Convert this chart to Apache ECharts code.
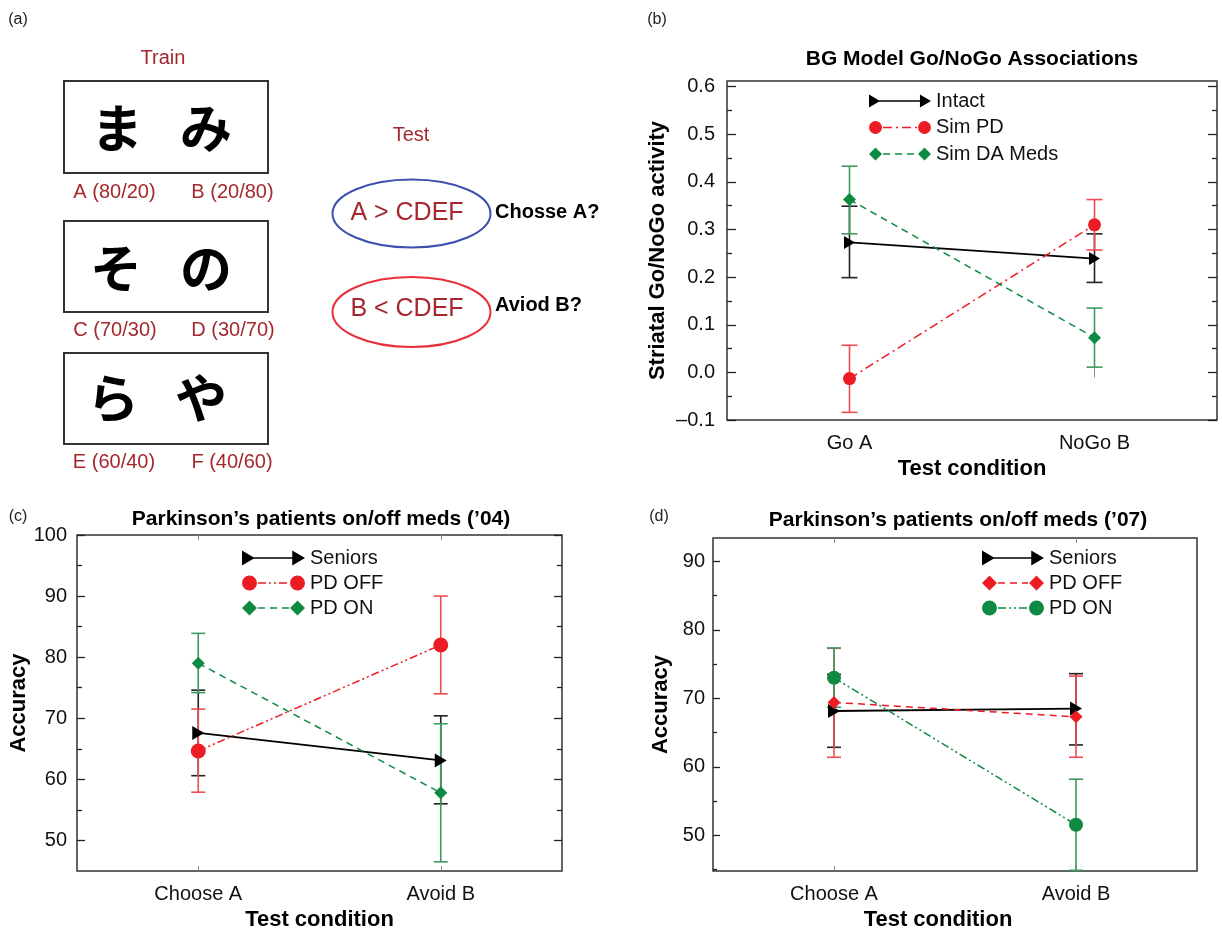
<!DOCTYPE html>
<html><head><meta charset="utf-8">
<script src="https://cdn.jsdelivr.net/npm/echarts@6/dist/echarts.min.js"></script>
<style>html,body{margin:0;padding:0;background:#fff}#main{width:1222px;height:931px}</style>
</head><body><div id="main"></div>
<script>
// ---------- Panel (b) data ----------
const catsB = ['Go A', 'NoGo B'];
const intactMean = [0.273, 0.239];
const intactLo = [0.199, 0.189];
const intactHi = [0.349, 0.291];
const simPDMean = [-0.013, 0.310];
const simPDLo = [-0.084, 0.257];
const simPDHi = [0.057, 0.363];
const simDAMean = [0.363, 0.073];
const simDALo = [0.291, 0.011];
const simDAHi = [0.433, 0.135];
const yTicksB = [-0.1, 0, 0.1, 0.2, 0.3, 0.4, 0.5, 0.6];
const yMinorB = [-0.05, 0.05, 0.15, 0.25, 0.35, 0.45, 0.55];

// ---------- Panel (c) data ----------
const catsC = ['Choose A', 'Avoid B'];
const seniorsMeanC = [67.6, 63.1];
const seniorsLoC = [60.6, 56.0];
const seniorsHiC = [74.6, 70.4];
const pdOffMeanC = [64.65, 82.0];
const pdOffLoC = [57.9, 74.0];
const pdOffHiC = [71.5, 90.0];
const pdOnMeanC = [79.0, 57.8];
const pdOnLoC = [74.2, 46.5];
const pdOnHiC = [83.9, 69.1];
const yTicksC = [50, 60, 70, 80, 90, 100];
const yMinorC = [55, 65, 75, 85, 95];

// ---------- Panel (d) data ----------
const catsD = ['Choose A', 'Avoid B'];
const seniorsMeanD = [68.15, 68.5];
const seniorsLoD = [62.85, 63.2];
const seniorsHiD = [73.5, 73.6];
const pdOffMeanD = [69.4, 67.3];
const pdOffLoD = [61.4, 61.4];
const pdOffHiD = [77.3, 73.25];
const pdOnMeanD = [73.0, 51.55];
const pdOnLoD = [68.7, 44.9];
const pdOnHiD = [77.35, 58.2];
const yTicksD = [50, 60, 70, 80, 90];
const yMinorD = [45, 55, 65, 75, 85];

// ---------- styling ----------
const FONT = 'Liberation Sans, Arial, Helvetica, sans-serif';
const BLACK = '#000000', RED = '#ec1c24', GREEN = '#0e8a43';
const RED_ERR = '#ee4d52', GREEN_ERR = '#3d9a5e', BLACK_ERR = '#222222';
const DASH_DOT = [9, 4, 2, 4];
const DASH_DOT_DOT = [8, 3, 2, 3, 2, 3];
const DASHED = [7, 5];

function dashSegs(x0, x1, pattern) {
  const segs = []; let x = x0, i = 0;
  if (!pattern) return [[x0, x1]];
  while (x < x1) {
    const len = pattern[i % pattern.length];
    if (i % 2 === 0) segs.push([x, Math.min(x + len, x1)]);
    x += len; i++;
  }
  return segs;
}
function legendIcon(shape, pattern, W, H) {
  const m = H / 2, t = 0.8;
  let p = '';
  let rx0, w;
  if (shape === 'tri') {
    w = H * 0.85; rx0 = W - w;
    p += `M0 0L${w} ${m}L0 ${H}Z`;
    p += `M${rx0} 0L${W} ${m}L${rx0} ${H}Z`;
  } else if (shape === 'circle') {
    const r = H / 2; w = H; rx0 = W - H;
    p += `M0 ${m}A${r} ${r} 0 1 0 ${H} ${m}A${r} ${r} 0 1 0 0 ${m}Z`;
    p += `M${rx0} ${m}A${r} ${r} 0 1 0 ${W} ${m}A${r} ${r} 0 1 0 ${rx0} ${m}Z`;
  } else {
    w = H; rx0 = W - H;
    p += `M0 ${m}L${H / 2} 0L${H} ${m}L${H / 2} ${H}Z`;
    p += `M${rx0} ${m}L${rx0 + H / 2} 0L${W} ${m}L${rx0 + H / 2} ${H}Z`;
  }
  const a = shape === 'tri' ? w * 0.5 : w, b = shape === 'tri' ? rx0 + 1 : rx0;
  dashSegs(a + (pattern ? 1 : 0), b - (pattern ? 1 : 0), pattern).forEach(s => {
    p += `M${s[0]} ${m - t}L${s[1]} ${m - t}L${s[1]} ${m + t}L${s[0]} ${m + t}Z`;
  });
  return 'path://' + p;
}

function lineSeries(name, gi, data, color, symbol, size, dash, width) {
  return {
    type: 'line', name, xAxisIndex: gi * 2, yAxisIndex: gi * 4, data,
    symbol, symbolSize: size, symbolRotate: symbol === 'triangle' ? -90 : 0,
    itemStyle: { color }, lineStyle: { color, width: width || 1.5, type: dash || 'solid' },
    z: 5, animation: false, emphasis: { disabled: true }, silent: true
  };
}
function errSeries(gi, lo, hi, color, capW) {
  return {
    type: 'custom', xAxisIndex: gi * 2, yAxisIndex: gi * 4,
    data: lo.map((l, i) => [i, l, hi[i]]),
    encode: { x: 0, y: [1, 2] }, z: 3, silent: true, animation: false,
    renderItem: function (params, api) {
      const x = api.value(0);
      const pl = api.coord([x, api.value(1)]);
      const ph = api.coord([x, api.value(2)]);
      const st = { stroke: color, lineWidth: 1.6 };
      return {
        type: 'group', children: [
          { type: 'line', shape: { x1: pl[0], y1: pl[1], x2: ph[0], y2: ph[1] }, style: st },
          { type: 'line', shape: { x1: pl[0] - capW / 2, y1: pl[1], x2: pl[0] + capW / 2, y2: pl[1] }, style: st },
          { type: 'line', shape: { x1: ph[0] - capW / 2, y1: ph[1], x2: ph[0] + capW / 2, y2: ph[1] }, style: st }
        ]
      };
    }
  };
}
const nameStyle = { fontSize: 22, fontWeight: 'bold', color: '#000', fontFamily: FONT };
function xAxes(gi, cats, extraPad) {
  const tick = { show: true, inside: true, alignWithLabel: true, length: 5, lineStyle: { color: '#888', width: 1 } };
  return [
    {
      type: 'category', gridIndex: gi, data: cats, boundaryGap: true, position: 'bottom',
      axisLine: { show: false }, axisTick: tick,
      axisLabel: { fontSize: 20, color: '#111', fontFamily: FONT, margin: 13 },
      name: 'Test condition', nameLocation: 'middle', nameGap: 38,
      nameTextStyle: Object.assign({}, nameStyle, extraPad ? { padding: [0, extraPad, 0, 0] } : {})
    },
    { type: 'category', gridIndex: gi, data: cats, boundaryGap: true, position: 'top',
      axisLine: { show: false }, axisTick: tick, axisLabel: { show: false } }
  ];
}
function yAxes(gi, min, max, major, minor, fmt, margin, majorLen, minorLen, rightTicks, nameGap) {
  const base = { type: 'value', gridIndex: gi, min, max, axisLine: { show: false }, splitLine: { show: false } };
  const tl = { color: '#222', width: 1.3 };
  return [
    Object.assign({}, base, {
      position: 'left',
      axisTick: { show: true, inside: true, length: majorLen, customValues: major, lineStyle: tl },
      axisLabel: { customValues: major, formatter: fmt, fontSize: 20, color: '#111', fontFamily: FONT, margin },
      name: gi === 0 ? 'Striatal Go/NoGo activity' : 'Accuracy', nameLocation: 'middle', nameGap,
      nameTextStyle: nameStyle
    }),
    Object.assign({}, base, { position: 'left',
      axisTick: { show: true, inside: true, length: minorLen, customValues: minor, lineStyle: tl },
      axisLabel: { show: false } }),
    Object.assign({}, base, { position: 'right',
      axisTick: { show: rightTicks, inside: true, length: majorLen, customValues: major, lineStyle: tl },
      axisLabel: { show: false } }),
    Object.assign({}, base, { position: 'right',
      axisTick: { show: rightTicks, inside: true, length: minorLen, customValues: minor, lineStyle: tl },
      axisLabel: { show: false } })
  ];
}
function legendData(items, W, H) {
  return items.map(it => ({ name: it.name, icon: legendIcon(it.shape, it.pattern, W, H),
    itemStyle: { color: it.color, borderWidth: 0 } }));
}
function legendCfg(left, top, data, W, H, gap) {
  return {
    left, top, orient: 'vertical', padding: 0, itemWidth: W, itemHeight: H, itemGap: gap,
    selectedMode: false, data,
    textStyle: { fontSize: 20, color: '#111', fontFamily: FONT, lineHeight: 20 }
  };
}

const gridBase = { show: true, borderColor: '#333', borderWidth: 1.5, backgroundColor: 'transparent', outerBoundsMode: 'none', containLabel: false };
const fmtB = v => (v < 0 ? '\u2013' + Math.abs(v).toFixed(1) : v.toFixed(1));
const fmtInt = v => String(Math.round(v));

const redTxt = '#a4282d';
function txt(text, x, y, size, fill, opts) {
  return Object.assign({ type: 'text', x, y, silent: true,
    style: Object.assign({ text, fontSize: size, fontFamily: FONT, fill, align: 'center', verticalAlign: 'middle' }, opts || {}) });
}
const JP = 'Noto Sans CJK JP, sans-serif';
const jpOpt = { fontFamily: JP, fontWeight: 'bold' };
const graphics = [
  txt('(a)', 18, 20, 16, '#222'),
  txt('(b)', 657, 20, 16, '#222'),
  txt('(c)', 18, 517, 16, '#222'),
  txt('(d)', 659, 517, 16, '#222'),
  txt('Train', 163, 58, 20, redTxt),
  { type: 'rect', shape: { x: 64, y: 81, width: 204, height: 92 }, style: { fill: '#fff', stroke: '#333', lineWidth: 2 } },
  { type: 'rect', shape: { x: 64, y: 221, width: 204, height: 91 }, style: { fill: '#fff', stroke: '#333', lineWidth: 2 } },
  { type: 'rect', shape: { x: 64, y: 353, width: 204, height: 91 }, style: { fill: '#fff', stroke: '#333', lineWidth: 2 } },
  txt('ま', 117, 128, 52, '#000', jpOpt),
  txt('み', 206, 128, 52, '#000', jpOpt),
  txt('そ', 116, 268, 52, '#000', jpOpt),
  txt('の', 206, 268, 52, '#000', jpOpt),
  txt('ら', 113, 398, 52, '#000', jpOpt),
  txt('や', 201, 398, 52, '#000', jpOpt),
  txt('A (80/20)', 114.5, 192, 20, redTxt),
  txt('B (20/80)', 232.5, 192, 20, redTxt),
  txt('C (70/30)', 115, 330, 20, redTxt),
  txt('D (30/70)', 233, 330, 20, redTxt),
  txt('E (60/40)', 114, 462, 20, redTxt),
  txt('F (40/60)', 232, 462, 20, redTxt),
  txt('Test', 411, 135, 20, redTxt),
  { type: 'ellipse', shape: { cx: 411.5, cy: 213.5, rx: 79, ry: 34 }, style: { fill: 'none', stroke: '#3d4fae', lineWidth: 2 } },
  { type: 'ellipse', shape: { cx: 411.5, cy: 312, rx: 79, ry: 35 }, style: { fill: 'none', stroke: '#e8303a', lineWidth: 2 } },
  txt('A > CDEF', 407, 213, 25, redTxt),
  txt('B < CDEF', 407, 309, 25, redTxt),
  txt('Chosse A?', 495, 212, 20, '#000', { align: 'left', fontWeight: 'bold' }),
  txt('Aviod B?', 495, 305, 20, '#000', { align: 'left', fontWeight: 'bold' })
];

const titleStyle = { fontSize: 21, fontWeight: 'bold', color: '#000', fontFamily: FONT, lineHeight: 21 };
const option = {
  backgroundColor: '#fff',
  animation: false,
  title: [
    { text: 'BG Model Go/NoGo Associations', left: 972, top: 49, textAlign: 'center', padding: 0, textStyle: titleStyle },
    { text: 'Parkinson\u2019s patients on/off meds (\u201904)', left: 321, top: 509, textAlign: 'center', padding: 0, textStyle: titleStyle },
    { text: 'Parkinson\u2019s patients on/off meds (\u201907)', left: 958, top: 510, textAlign: 'center', padding: 0, textStyle: titleStyle }
  ],
  grid: [
    Object.assign({ left: 727, top: 81, width: 490, height: 339 }, gridBase),
    Object.assign({ left: 77, top: 535, width: 485, height: 336 }, gridBase),
    Object.assign({ left: 713, top: 538, width: 484, height: 333 }, gridBase)
  ],
  xAxis: [].concat(
    xAxes(0, catsB, 0),
    xAxes(1, catsC, 0),
    xAxes(2, catsD, 34)
  ),
  yAxis: [].concat(
    yAxes(0, -0.1, 0.612, yTicksB, yMinorB, fmtB, 12, 9, 5, true, 58),
    yAxes(1, 45, 100, yTicksC, yMinorC, fmtInt, 10, 8, 5, true, 43),
    yAxes(2, 44.8, 93.4, yTicksD, yMinorD, fmtInt, 8, 7, 4, false, 41)
  ),
  legend: [
    legendCfg(869, 91, legendData([
      { name: 'Intact', shape: 'tri', pattern: null, color: BLACK },
      { name: 'Sim PD', shape: 'circle', pattern: DASH_DOT, color: RED },
      { name: 'Sim DA Meds', shape: 'diamond', pattern: DASHED, color: GREEN }
    ], 62, 13), 62, 13, 6.5),
    legendCfg(242, 548, legendData([
      { name: 'Seniors', shape: 'tri', pattern: null, color: BLACK },
      { name: 'PD OFF', shape: 'circle', pattern: DASH_DOT_DOT, color: RED },
      { name: 'PD ON', shape: 'diamond', pattern: DASHED, color: GREEN }
    ], 63, 15), 63, 15, 5),
    legendCfg(982, 548, legendData([
      { name: 'Seniors ', shape: 'tri', pattern: null, color: BLACK },
      { name: 'PD OFF ', shape: 'diamond', pattern: DASHED, color: RED },
      { name: 'PD ON ', shape: 'circle', pattern: DASH_DOT_DOT, color: GREEN }
    ], 62, 15), 62, 15, 5)
  ],
  series: [
    // (b)
    errSeries(0, intactLo, intactHi, BLACK_ERR, 16),
    errSeries(0, simPDLo, simPDHi, RED_ERR, 16),
    errSeries(0, simDALo, simDAHi, GREEN_ERR, 16),
    lineSeries('Intact', 0, intactMean, BLACK, 'triangle', [13, 11], 'solid', 1.8),
    lineSeries('Sim PD', 0, simPDMean, RED, 'circle', 13, DASH_DOT),
    lineSeries('Sim DA Meds', 0, simDAMean, GREEN, 'diamond', 13, DASHED),
    // (c)
    errSeries(1, seniorsLoC, seniorsHiC, BLACK_ERR, 14),
    errSeries(1, pdOffLoC, pdOffHiC, RED_ERR, 14),
    errSeries(1, pdOnLoC, pdOnHiC, GREEN_ERR, 14),
    lineSeries('Seniors', 1, seniorsMeanC, BLACK, 'triangle', [14, 12], 'solid', 1.8),
    lineSeries('PD OFF', 1, pdOffMeanC, RED, 'circle', 15, DASH_DOT_DOT),
    lineSeries('PD ON', 1, pdOnMeanC, GREEN, 'diamond', 13, DASHED),
    // (d)
    errSeries(2, seniorsLoD, seniorsHiD, BLACK_ERR, 14),
    errSeries(2, pdOffLoD, pdOffHiD, RED_ERR, 14),
    errSeries(2, pdOnLoD, pdOnHiD, GREEN_ERR, 14),
    lineSeries('Seniors ', 2, seniorsMeanD, BLACK, 'triangle', [14, 12], 'solid', 1.8),
    lineSeries('PD OFF ', 2, pdOffMeanD, RED, 'diamond', 13, DASHED),
    lineSeries('PD ON ', 2, pdOnMeanD, GREEN, 'circle', 14, DASH_DOT_DOT)
  ],
  graphic: { elements: graphics }
};
const chart = echarts.init(document.getElementById('main'), null, { renderer: 'canvas' });
chart.setOption(option);
</script></body></html>
